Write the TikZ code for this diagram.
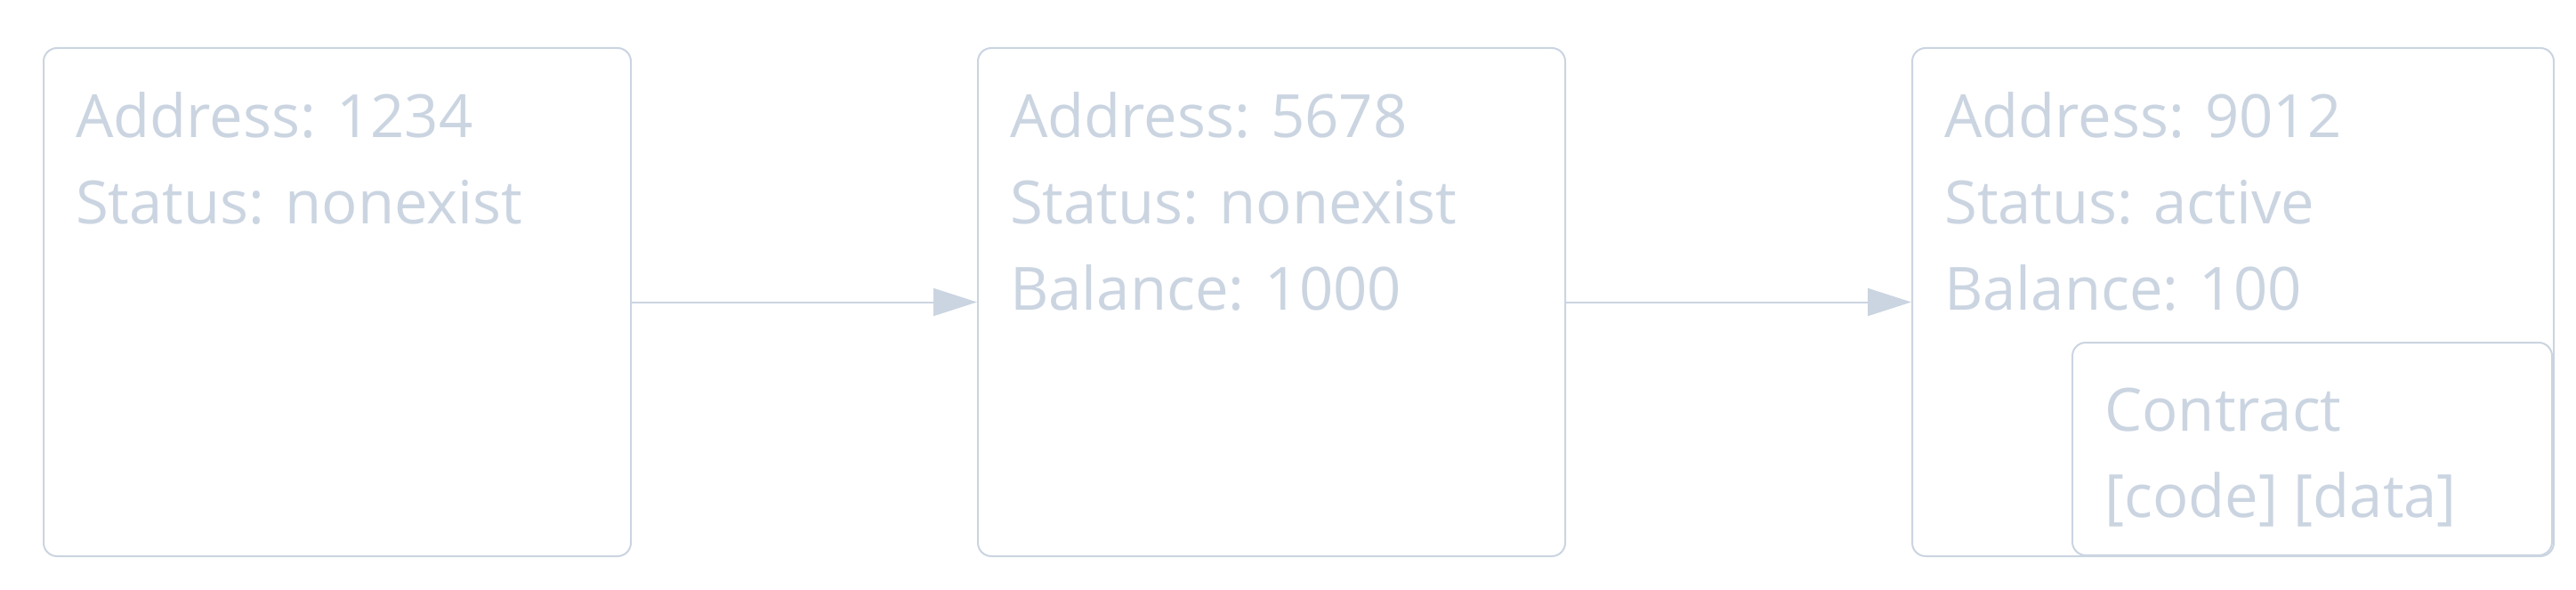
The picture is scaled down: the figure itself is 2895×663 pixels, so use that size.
\documentclass[tikz,border=0pt]{standalone}
\usepackage{fontspec}
\setmainfont{Open Sans}
\usetikzlibrary{arrows.meta,positioning}
\definecolor{slate}{HTML}{CBD5E1}
\tikzset{
  acct/.style={draw=slate, line width=2pt, rounded corners=15pt, fill=white,
    inner sep=0pt, anchor=north west},
  field/.style={text=slate, inner sep=0pt, anchor=base west,
    font=\fontsize{67}{80}\selectfont},
  link/.style={draw=slate, line width=2pt, -{Triangle[length=49pt,width=31pt]}}
}

\begin{document}
\begin{tikzpicture}[x=1pt,y=-1pt]
     \useasboundingbox (0,0) rectangle (2895,663);
     %%%%%%%%%%%%%%%%%%%%%%%%%%%%%%%%%%%%%%%%%%%%%%
     %%% Three states of the account
     %%%%%%%%%%%%%%%%%%%%%%%%%%%%%%%%%%%%%%%%%%%%%%
     \node[acct, minimum width=660pt, minimum height=571pt] (acctA) at (48,53) {};
     \node[acct, minimum width=660pt, minimum height=571pt] (acctB) at (1098,53) {};
     \node[acct, minimum width=721pt, minimum height=571pt] (acctC) at (2148,53) {};
     % Contract part of the last account
     \node[acct, minimum width=539pt, minimum height=239pt] (contract) at (2328,384) {};

     % Fields of the first account
     \node[field] (addrA) at (85,155) {Address: 1234};
     \node[field] (statA) at (85,251) {Status: nonexist};
     % Fields of the second account
     \node[field] (addrB) at (1135,155) {Address: 5678};
     \node[field] (statB) at (1135,251) {Status: nonexist};
     \node[field] (balB) at (1135,348) {Balance: 1000};
     % Fields of the third account
     \node[field] (addrC) at (2185,155) {Address: 9012};
     \node[field] (statC) at (2185,251) {Status: active};
     \node[field] (balC) at (2185,348) {Balance: 100};
     \node[field] (nameD) at (2365,484) {Contract};
     \node[field] (partD) at (2365,581) {[code] [data]};

     % State transitions
     \draw[link] (acctA) -- (acctB);
     \draw[link] (acctB) -- (acctC);
\end{tikzpicture}
\end{document}
